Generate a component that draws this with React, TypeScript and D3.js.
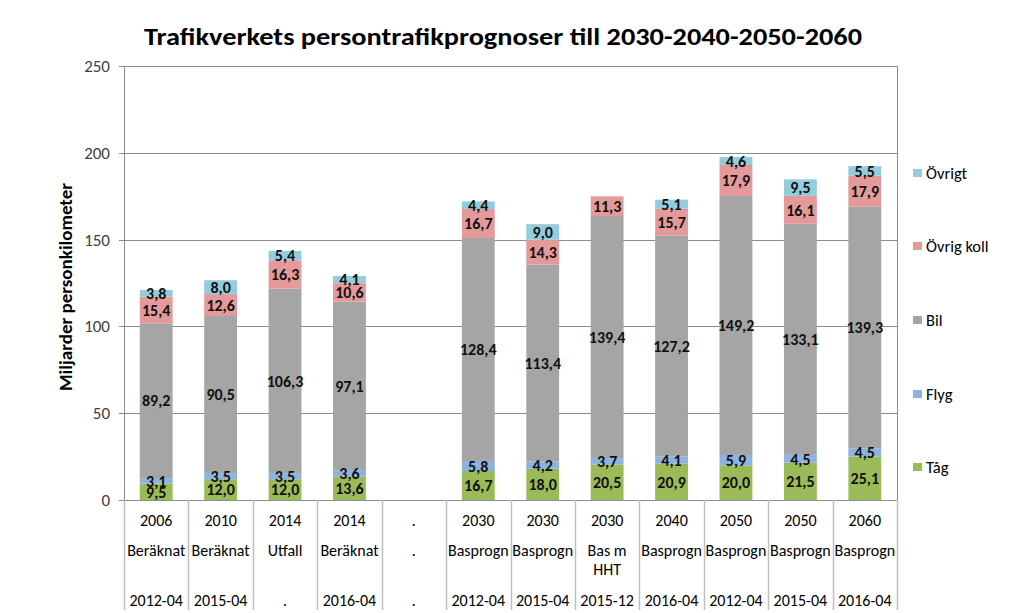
import { useEffect, useRef } from 'react';
import * as d3 from 'd3';

// kategorier (tre rader under x-axeln)
const years = ['2006', '2010', '2014', '2014', '.', '2030', '2030', '2030', '2040', '2050', '2050', '2060'];
const kinds = ['Beräknat', 'Beräknat', 'Utfall', 'Beräknat', '.', 'Basprogn', 'Basprogn', 'Bas m|HHT', 'Basprogn', 'Basprogn', 'Basprogn', 'Basprogn'];
const versions = ['2012-04', '2015-04', '.', '2016-04', '.', '2012-04', '2015-04', '2015-12', '2016-04', '2012-04', '2015-04', '2016-04'];

// serier (miljarder personkilometer)
const tag = [9.5, 12.0, 12.0, 13.6, null, 16.7, 18.0, 20.5, 20.9, 20.0, 21.5, 25.1];
const flyg = [3.1, 3.5, 3.5, 3.6, null, 5.8, 4.2, 3.7, 4.1, 5.9, 4.5, 4.5];
const bil = [89.2, 90.5, 106.3, 97.1, null, 128.4, 113.4, 139.4, 127.2, 149.2, 133.1, 139.3];
const ovrigKoll = [15.4, 12.6, 16.3, 10.6, null, 16.7, 14.3, 11.3, 15.7, 17.9, 16.1, 17.9];
const ovrigt = [3.8, 8.0, 5.4, 4.1, null, 4.4, 9.0, null, 5.1, 4.6, 9.5, 5.5];

const yTicks = [0, 50, 100, 150, 200, 250];

const series = [
  { key: 'Tåg', values: tag, color: '#9bbb59' },
  { key: 'Flyg', values: flyg, color: '#8db3e2' },
  { key: 'Bil', values: bil, color: '#a5a5a5' },
  { key: 'Övrig koll', values: ovrigKoll, color: '#e49a9a' },
  { key: 'Övrigt', values: ovrigt, color: '#93cddd' },
];

const FONT = "Calibri, Carlito, 'Open Sans', 'Noto Sans', sans-serif";

export default function App() {
  const svgRef = useRef<SVGSVGElement>(null);

  useEffect(() => {
    if (!svgRef.current) return;
    const svg = d3.select(svgRef.current);
    svg.selectAll('*').remove();

    const left = 124, right = 897, top = 66, bottom = 500;

    const x = d3.scaleBand<number>()
      .domain(d3.range(years.length))
      .range([left, right])
      .padding(0);
    const y = d3.scaleLinear().domain([0, 250]).range([bottom, top]);
    const barW = x.bandwidth() * 0.51;

    const rows = years.map((_, i) => {
      const r: any = { i };
      series.forEach(s => { r[s.key] = s.values[i] ?? 0; });
      return r;
    });
    const stacked = d3.stack<any>().keys(series.map(s => s.key))(rows);

    // titel
    svg.append('text')
      .attr('x', 503)
      .attr('y', 45)
      .attr('text-anchor', 'middle')
      .attr('font-family', FONT)
      .attr('font-weight', 'bold')
      .attr('font-size', 24)
      .attr('textLength', 718)
      .attr('lengthAdjust', 'spacingAndGlyphs')
      .attr('fill', '#000')
      .text('Trafikverkets persontrafikprognoser till 2030-2040-2050-2060');

    // rutnät
    svg.append('g')
      .selectAll('line')
      .data(yTicks)
      .join('line')
      .attr('x1', left - 5)
      .attr('x2', right)
      .attr('y1', d => Math.round(y(d)) + 0.5)
      .attr('y2', d => Math.round(y(d)) + 0.5)
      .attr('stroke', '#8c8c8c')
      .attr('stroke-width', 1);

    // y-axel
    svg.append('line')
      .attr('x1', left + 0.5).attr('x2', left + 0.5)
      .attr('y1', top).attr('y2', bottom)
      .attr('stroke', '#8c8c8c');
    svg.append('line')
      .attr('x1', right + 0.5).attr('x2', right + 0.5)
      .attr('y1', top).attr('y2', bottom)
      .attr('stroke', '#8c8c8c');

    svg.append('g')
      .selectAll('text')
      .data(yTicks)
      .join('text')
      .attr('x', 110)
      .attr('y', d => y(d))
      .attr('dy', '0.35em')
      .attr('text-anchor', 'end')
      .attr('font-family', FONT)
      .attr('font-size', 17)
      .attr('fill', '#404040')
      .text(d => d);

    svg.append('text')
      .attr('transform', `translate(72,287) rotate(-90)`)
      .attr('text-anchor', 'middle')
      .attr('font-family', FONT)
      .attr('font-weight', 'bold')
      .attr('font-size', 19)
      .attr('fill', '#000')
      .text('Miljarder personkilometer');

    // staplar
    const gBars = svg.append('g');
    stacked.forEach((layer, si) => {
      gBars.append('g')
        .selectAll('rect')
        .data(layer.filter(d => d[1] - d[0] > 0))
        .join('rect')
        .attr('x', d => x(d.data.i)! + (x.bandwidth() - barW) / 2)
        .attr('width', barW)
        .attr('y', d => y(d[1]))
        .attr('height', d => y(d[0]) - y(d[1]))
        .attr('fill', series[si].color);
    });

    // datavärden
    const fmt = (v: number) => d3.format('.1f')(v).replace('.', ',');
    stacked.forEach(layer => {
      gBars.append('g')
        .selectAll('text')
        .data(layer.filter(d => d[1] - d[0] > 0))
        .join('text')
        .attr('x', d => x(d.data.i)! + x.bandwidth() / 2)
        .attr('y', d => (y(d[0]) + y(d[1])) / 2)
        .attr('dy', '0.36em')
        .attr('text-anchor', 'middle')
        .attr('font-family', FONT)
        .attr('font-weight', 'bold')
        .attr('font-size', 16)
        .attr('fill', '#111')
        .text(d => fmt(d[1] - d[0]));
    });

    // kategoriaxel
    const bounds = d3.range(years.length + 1).map(i => i < years.length ? x(i)! : right);
    svg.append('g')
      .selectAll('line')
      .data(bounds)
      .join('line')
      .attr('x1', d => Math.round(d) + 0.5)
      .attr('x2', d => Math.round(d) + 0.5)
      .attr('y1', bottom)
      .attr('y2', 610)
      .attr('stroke', '#bfbfbf')
      .attr('stroke-width', 1.5);

    const catG = svg.append('g')
      .attr('font-family', FONT)
      .attr('font-size', 16)
      .attr('fill', '#000')
      .attr('text-anchor', 'middle');
    years.forEach((yr, i) => {
      const cx = x(i)! + x.bandwidth() / 2;
      catG.append('text').attr('x', cx).attr('y', 526).text(yr);
      kinds[i].split('|').forEach((line, j) => {
        catG.append('text').attr('x', cx).attr('y', 556 + j * 19).text(line);
      });
      catG.append('text').attr('x', cx).attr('y', 606).text(versions[i]);
    });

    // legend
    const legendY = [467, 394, 320, 246, 173];
    const lg = svg.append('g');
    series.forEach((s, i) => {
      lg.append('rect')
        .attr('x', 913)
        .attr('y', legendY[i] - 4)
        .attr('width', 9)
        .attr('height', 8)
        .attr('fill', s.color);
      lg.append('text')
        .attr('x', 926)
        .attr('y', legendY[i])
        .attr('dy', '0.35em')
        .attr('font-family', FONT)
        .attr('font-size', 16.5)
        .attr('fill', '#000')
        .text(s.key);
    });
  }, []);

  return (
    <svg
      ref={svgRef}
      width={1024}
      height={613}
      style={{ position: 'absolute', left: 0, top: 0, background: '#fff' }}
    />
  );
}
